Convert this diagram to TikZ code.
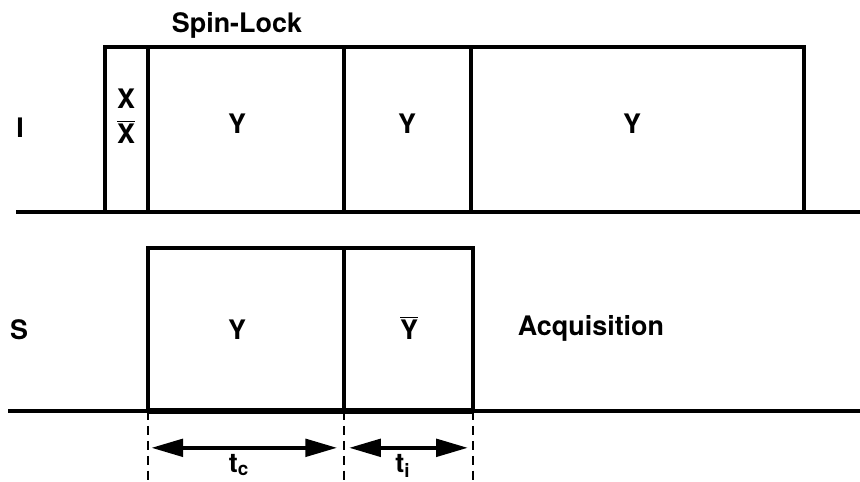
\documentclass[tikz,border=0pt]{standalone}
\usepackage{fontspec}
\setsansfont{TeX Gyre Heros}
\usetikzlibrary{arrows.meta, positioning, calc}
\tikzset{
  pulse/.style={draw, line width=2.2pt, line join=miter},
  axis/.style={line width=2.2pt},
  lbl/.style={font=\sffamily\bfseries\fontsize{15.3}{18}\selectfont, inner sep=0pt},
  guide/.style={line width=1.5pt, dash pattern=on 5pt off 3.5pt},
  span/.style={{Triangle[length=18pt,width=10pt]}-{Triangle[length=18pt,width=10pt]},
               line width=2pt}
}

\begin{document}
\begin{tikzpicture}[x=0.02cm, y=0.02cm]
  \useasboundingbox (0,0) rectangle (860,481);
  % I channel
  \draw[axis] (16,269) -- (860,269);
  \draw[pulse] (105,269) rectangle (804,434);
  \foreach \x in {148,344,471} \draw[pulse] (\x,269) -- (\x,434);
  \node[lbl] (chI) at (20,353) {I};
  \node[lbl] (spin) at (237,456) {Spin-Lock};
  \node[lbl, align=center] (xx) at (126,365) {X\\[2pt]$\overline{\mbox{X}}$};
  \foreach \x/\n in {237/y1,407/y2,632/y3}
    \node[lbl] (\n) at (\x,357) {Y};
  % S channel
  \draw[axis] (8,70) -- (860,70);
  \draw[line width=3.2pt] (148,70) -- (473,70);
  \draw[pulse] (148,70) rectangle (473,233);
  \draw[pulse] (344,70) -- (344,233);
  \node[lbl] (chS) at (19,151) {S};
  \node[lbl] (ys) at (237,151) {Y};
  \node[lbl] (yb) at (409,153) {$\overline{\mbox{Y}}$};
  \node[lbl] (acq) at (591,153) {Acquisition};
  % timing marks
  \foreach \x/\n in {148/m1,344/m2,473/m3} {
    \coordinate (\n) at (\x,70);
    \coordinate (\n b) at (\x,0);
    \draw[guide] (\n) -- (\n b);
  }
  \draw[span, shorten <=2pt, shorten >=4pt] ($(m1)!0.526!(m1b)$) -- ($(m2)!0.526!(m2b)$);
  \draw[span, shorten <=3pt, shorten >=3pt] ($(m2)!0.526!(m2b)$) -- ($(m3)!0.526!(m3b)$);
  \node[lbl, anchor=base] (tc) at (239,9) {t\textsubscript{c}};
  \node[lbl, anchor=base] (ti) at (403,9) {t\textsubscript{i}};
\end{tikzpicture}
\end{document}
